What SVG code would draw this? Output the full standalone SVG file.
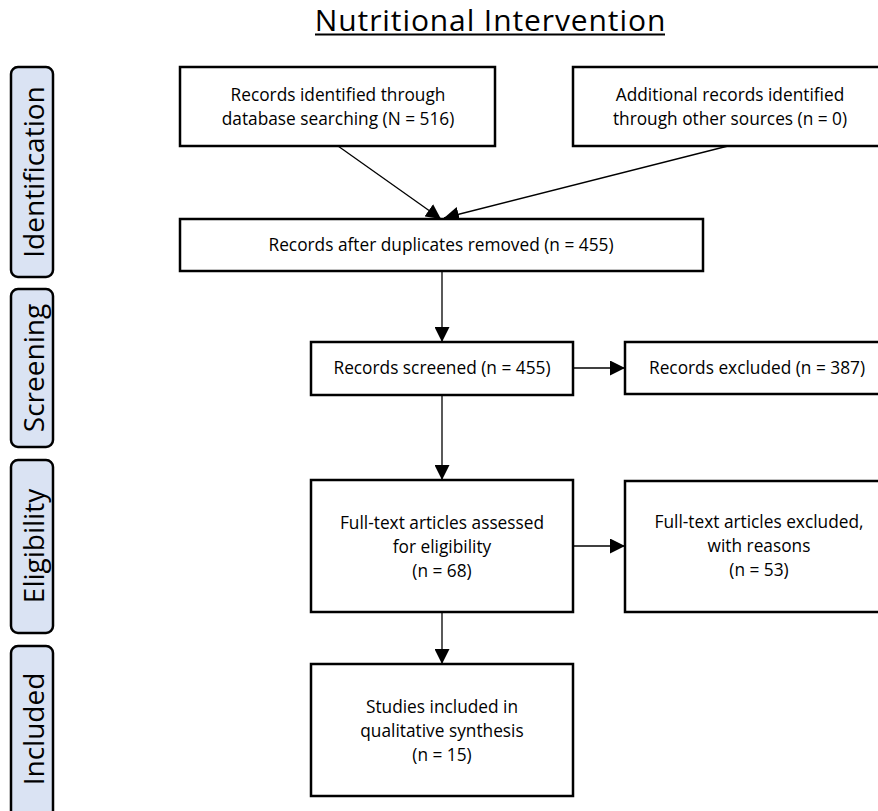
<svg xmlns="http://www.w3.org/2000/svg" width="878" height="811" viewBox="0 0 878 811">
<defs>
<style>
.box{fill:#fff;stroke:#000;stroke-width:2.5}
.lab{fill:#dae3f3;stroke:#000;stroke-width:2.5}
.t{font-family:"Open Sans","Liberation Sans",sans-serif;font-size:17.3px;fill:#000;text-anchor:middle}
.lt{font-family:"Open Sans","Liberation Sans",sans-serif;font-size:28px;fill:#000;text-anchor:middle}
.title{font-family:"Open Sans","Liberation Sans",sans-serif;font-size:30px;letter-spacing:0.9px;fill:#000;text-anchor:middle}
.c{stroke:#000;stroke-width:1.3;fill:none}
</style>
<marker id="ah" viewBox="0 0 15 15" refX="15" refY="7.5" markerWidth="15" markerHeight="15" markerUnits="userSpaceOnUse" orient="auto">
<path d="M0,0 L15,7.5 L0,15 Z" fill="#000"/>
</marker>
</defs>
<rect width="878" height="811" fill="#fff"/>
<g id="title">
<text class="title" x="490.5" y="31">Nutritional Intervention</text>
<line x1="315" y1="34.5" x2="665" y2="34.5" stroke="#000" stroke-width="1.8"/>
</g>
<g id="label-identification">
<rect class="lab" x="11" y="67" width="42" height="210" rx="7"/>
<text class="lt" transform="translate(43.5,172) rotate(-90)">Identification</text>
</g>
<g id="label-screening">
<rect class="lab" x="11" y="289" width="42" height="158" rx="7"/>
<text class="lt" transform="translate(43.5,368) rotate(-90)">Screening</text>
</g>
<g id="label-eligibility">
<rect class="lab" x="11" y="460" width="42" height="173" rx="7"/>
<text class="lt" transform="translate(43.5,546) rotate(-90)">Eligibility</text>
</g>
<g id="label-included">
<rect class="lab" x="11" y="646" width="42" height="175" rx="7"/>
<text class="lt" transform="translate(43.5,729) rotate(-90)">Included</text>
</g>
<g id="connectors">
<line class="c" x1="338" y1="146" x2="441" y2="219" marker-end="url(#ah)"/>
<line class="c" x1="728" y1="146" x2="444" y2="218" marker-end="url(#ah)"/>
<line class="c" x1="442" y1="271" x2="442" y2="342" marker-end="url(#ah)"/>
<line class="c" x1="573" y1="368" x2="625" y2="368" marker-end="url(#ah)"/>
<line class="c" x1="442" y1="395" x2="442" y2="480" marker-end="url(#ah)"/>
<line class="c" x1="573" y1="546" x2="625" y2="546" marker-end="url(#ah)"/>
<line class="c" x1="442" y1="612" x2="442" y2="664" marker-end="url(#ah)"/>
</g>
<g id="n-db">
<rect class="box" x="180" y="67" width="315" height="79"/>
<text class="t" x="338" y="101">Records identified through</text>
<text class="t" x="338" y="125">database searching (N = 516)</text>
</g>
<g id="n-other">
<rect class="box" x="573" y="67" width="314" height="79"/>
<text class="t" x="730" y="101">Additional records identified</text>
<text class="t" x="730" y="125">through other sources (n = 0)</text>
</g>
<g id="n-dup">
<rect class="box" x="180" y="219" width="523" height="52"/>
<text class="t" x="441" y="251">Records after duplicates removed (n = 455)</text>
</g>
<g id="n-screened">
<rect class="box" x="311" y="342" width="262" height="53"/>
<text class="t" x="442" y="374">Records screened (n = 455)</text>
</g>
<g id="n-excluded">
<rect class="box" x="625" y="342" width="265" height="52"/>
<text class="t" x="757" y="374">Records excluded (n = 387)</text>
</g>
<g id="n-fulltext">
<rect class="box" x="311" y="480" width="262" height="132"/>
<text class="t" x="442" y="529">Full-text articles assessed</text>
<text class="t" x="442" y="553">for eligibility</text>
<text class="t" x="442" y="577">(n = 68)</text>
</g>
<g id="n-ft-excluded">
<rect class="box" x="625" y="481" width="265" height="131"/>
<text class="t" x="759" y="528">Full-text articles excluded,</text>
<text class="t" x="759" y="552">with reasons</text>
<text class="t" x="759" y="576">(n = 53)</text>
</g>
<g id="n-included">
<rect class="box" x="311" y="664" width="262" height="132"/>
<text class="t" x="442" y="713">Studies included in</text>
<text class="t" x="442" y="737">qualitative synthesis</text>
<text class="t" x="442" y="761">(n = 15)</text>
</g>
</svg>
